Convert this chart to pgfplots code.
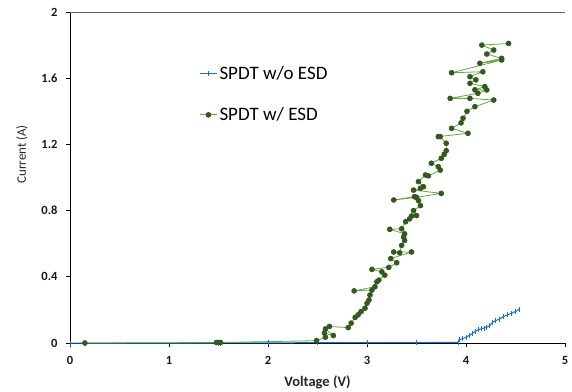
\documentclass[border=0pt]{standalone}
\usepackage{fontspec}
\setmainfont{Carlito}
\usepackage{pgfplots}
\pgfplotsset{compat=1.18}
\definecolor{gline}{RGB}{105,165,70}
\definecolor{gmark}{RGB}{50,90,30}
\definecolor{bline}{RGB}{20,115,205}
\begin{document}
\begin{tikzpicture}
\begin{axis}[
  scale only axis,
  width=495pt, height=331pt,
  xmin=0, xmax=5, ymin=0, ymax=2,
  axis x line*=bottom, axis y line*=left,
  axis line style={black, line width=0.9pt},
  xtick={0,1,2,3,4,5},
  xticklabels={0,1,2,3,4,5},
  ytick={0,0.4,0.8,1.2,1.6,2},
  yticklabels={0,0.4,0.8,1.2,1.6,2},
  tick align=outside,
  major tick length=4pt,
  tick style={black, line width=0.9pt},
  tick label style={font=\bfseries\fontsize{12.5}{14}\selectfont, text=black!90},
  yticklabel style={xshift=-5pt},
  xticklabel style={yshift=-6pt},
  xlabel={Voltage (V)}, ylabel={Current (A)},
  xlabel style={font=\bfseries\fontsize{14.5}{16}\selectfont, text=black!85, at={(rel axis cs:0.5,0)}, anchor=center, yshift=-39pt},
  ylabel style={font=\fontsize{13}{15}\selectfont, text=black!85, at={(rel axis cs:0,0.57)}, anchor=center, yshift=48pt},
  extra y ticks={2}, extra y tick labels={},
  extra y tick style={grid=major, major grid style={black!60, line width=0.6pt}, major tick length=0pt},
  legend style={draw=none, fill=none, at={(rel axis cs:0.255,0.85)}, anchor=north west,
    row sep=23pt, font=\fontsize{19}{22}\selectfont},
  legend cell align=left,
  clip=false,
]
\addplot[color=bline, line width=1pt, mark=|, mark size=2.5pt, mark options={line width=0.6pt}] coordinates {
(0,0) (0.15,0) (1.5,0) (1.52,0) (2.0,0.001) (2.5,0.002) (3.0,0.002) (3.5,0.003) (3.92,0.004)
(3.93,0.02) (3.96,0.025) (4.00,0.035) (4.03,0.045) (4.06,0.055) (4.09,0.07) (4.12,0.08)
(4.15,0.085) (4.18,0.09) (4.21,0.095) (4.24,0.105) (4.27,0.125) (4.30,0.135) (4.34,0.145)
(4.38,0.16) (4.42,0.17) (4.46,0.18) (4.50,0.19) (4.54,0.205)
};
\addlegendentry{SPDT w/o ESD}
\addplot[color=gline, line width=0.8pt, mark=*, mark size=2.4pt, mark options={fill=gmark, draw=gmark}] coordinates {
(0.15,0) (1.48,0.003) (1.50,0.003) (1.52,0.003) (2.49,0.014) (2.58,0.035) (2.57,0.06)
(2.66,0.045) (2.58,0.085) (2.62,0.10) (2.81,0.093) (2.84,0.12) (2.88,0.155) (2.91,0.17)
(2.94,0.19) (2.98,0.21) (3.00,0.24) (3.02,0.26) (3.03,0.29) (3.05,0.32) (2.87,0.315)
(3.08,0.34) (3.10,0.37) (3.12,0.38) (3.18,0.41) (3.15,0.43) (3.05,0.445) (3.22,0.457)
(3.30,0.485) (3.24,0.51) (3.45,0.55) (3.27,0.55) (3.33,0.545) (3.35,0.59) (3.38,0.62)
(3.37,0.64) (3.38,0.66) (3.23,0.687) (3.35,0.69) (3.39,0.733) (3.45,0.767) (3.43,0.75)
(3.50,0.77) (3.47,0.80) (3.54,0.83) (3.52,0.86) (3.48,0.884) (3.27,0.864) (3.50,0.88)
(3.75,0.904) (3.47,0.924) (3.54,0.935) (3.57,0.944) (3.52,0.975) (3.59,1.015) (3.62,1.01)
(3.74,1.045) (3.72,1.065) (3.65,1.086) (3.75,1.116) (3.78,1.14) (3.80,1.162) (3.80,1.207)
(3.74,1.247) (3.72,1.247) (4.02,1.267) (3.855,1.297) (3.95,1.33) (3.97,1.358) (4.01,1.40)
(4.09,1.428) (4.28,1.468) (4.04,1.478) (3.84,1.478) (4.12,1.509) (4.21,1.529) (4.09,1.53)
(4.19,1.549) (4.04,1.569) (4.10,1.59) (4.04,1.609) (4.17,1.639) (3.855,1.633) (4.36,1.71)
(4.14,1.69) (4.36,1.72) (4.21,1.746) (4.28,1.77) (4.16,1.80) (4.43,1.81)
};
\addlegendentry{SPDT w/ ESD}
\path (rel axis cs:0,0) ++(-70pt,-47pt);
\path (rel axis cs:1,1) ++(7pt,12pt);
\end{axis}
\end{tikzpicture}
\end{document}
